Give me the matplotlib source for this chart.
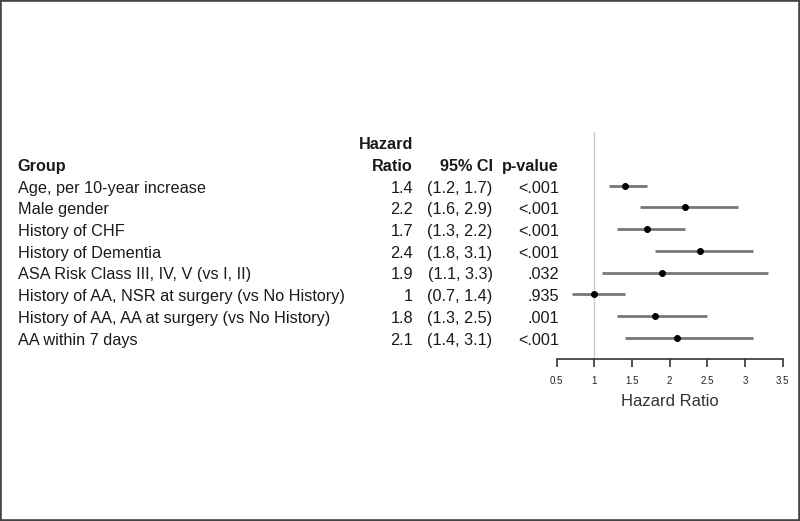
import matplotlib
matplotlib.use("Agg")
import matplotlib.pyplot as plt
from matplotlib.patches import Rectangle
import matplotlib.transforms as mtransforms

plt.rcParams['font.family'] = ['Liberation Sans', 'DejaVu Sans']

groups = [
    "Age, per 10-year increase",
    "Male gender",
    "History of CHF",
    "History of Dementia",
    "ASA Risk Class III, IV, V (vs I, II)",
    "History of AA, NSR at surgery (vs No History)",
    "History of AA, AA at surgery (vs No History)",
    "AA within 7 days",
]
hr = [1.4, 2.2, 1.7, 2.4, 1.9, 1.0, 1.8, 2.1]
ci_low = [1.2, 1.6, 1.3, 1.8, 1.1, 0.7, 1.3, 1.4]
ci_high = [1.7, 2.9, 2.2, 3.1, 3.3, 1.4, 2.5, 3.1]
hr_text = ["1.4", "2.2", "1.7", "2.4", "1.9", "1", "1.8", "2.1"]
ci_text = ["(1.2, 1.7)", "(1.6, 2.9)", "(1.3, 2.2)", "(1.8, 3.1)",
           "(1.1, 3.3)", "(0.7, 1.4)", "(1.3, 2.5)", "(1.4, 3.1)"]
p_text = ["<.001", "<.001", "<.001", "<.001", ".032", ".935", ".001", "<.001"]
xticks = [0.5, 1, 1.5, 2, 2.5, 3, 3.5]
xtick_labels = ["0.5", "1", "1.5", "2", "2.5", "3", "3.5"]

W, H = 800, 521
fig = plt.figure(figsize=(W / 100, H / 100), dpi=100)

# axes geometry (pixels)
x0, x1 = 556.7, 782.7
ytop, ybot = 131.7, 359.3
ax = fig.add_axes([x0 / W, (H - ybot) / H, (x1 - x0) / W, (ybot - ytop) / H])
ax.set_xlim(0.5, 3.5)
ax.set_ylim(9.0, -1.49)

rows = list(range(1, len(groups) + 1))
ax.axvline(1, color='#cccccc', lw=1.0, zorder=1)
ax.hlines(rows, ci_low, ci_high, color='#777777', lw=2.0, zorder=2)
ax.plot(hr, rows, 'o', color='black', markersize=4.0, zorder=3)

for s in ['top', 'right', 'left']:
    ax.spines[s].set_visible(False)
ax.spines['bottom'].set_color('#333333')
ax.spines['bottom'].set_linewidth(1.2)
ax.set_yticks([])
ax.set_xticks(xticks)
ax.set_xticklabels(xtick_labels, fontsize=7, color='#222222')
ax.tick_params(axis='x', direction='out', length=5.5, width=1.2, color='#333333', pad=6.5)
ax.set_xlabel("Hazard Ratio", fontsize=12, color='#333333', labelpad=6)

tr = mtransforms.blended_transform_factory(fig.transFigure, ax.transData)
txtc = '#1a1a1a'
fs = 11.7
off = 0.32
col_group = 17.7 / W
col_hr = 413 / W
col_ci = 492.5 / W
col_p = 559 / W

ax.text(col_group, 0 + off, "Group", transform=tr, ha='left', va='baseline',
        fontsize=fs, fontweight='bold', color=txtc)
ax.text(col_hr, -1 + off, "Hazard", transform=tr, ha='right', va='baseline',
        fontsize=fs, fontweight='bold', color=txtc)
ax.text(col_hr, 0 + off, "Ratio", transform=tr, ha='right', va='baseline',
        fontsize=fs, fontweight='bold', color=txtc)
ax.text(col_ci, 0 + off, "95% CI", transform=tr, ha='right', va='baseline',
        fontsize=fs, fontweight='bold', color=txtc)
ax.text(col_p, 0 + off, "p-value", transform=tr, ha='right', va='baseline',
        fontsize=fs, fontweight='bold', color=txtc)

for i, r in enumerate(rows):
    ax.text(col_group, r + off, groups[i], transform=tr, ha='left', va='baseline',
            fontsize=fs, color=txtc)
    ax.text(col_hr, r + off, hr_text[i], transform=tr, ha='right', va='baseline',
            fontsize=fs, color=txtc)
    ax.text(col_ci, r + off, ci_text[i], transform=tr, ha='right', va='baseline',
            fontsize=fs, color=txtc)
    ax.text(col_p, r + off, p_text[i], transform=tr, ha='right', va='baseline',
            fontsize=fs, color=txtc)

fig.patches.append(Rectangle((0, 0), 1, 1, transform=fig.transFigure, fill=False,
                             edgecolor='#444444', linewidth=2.6))

fig.savefig("out.png", dpi=100)
